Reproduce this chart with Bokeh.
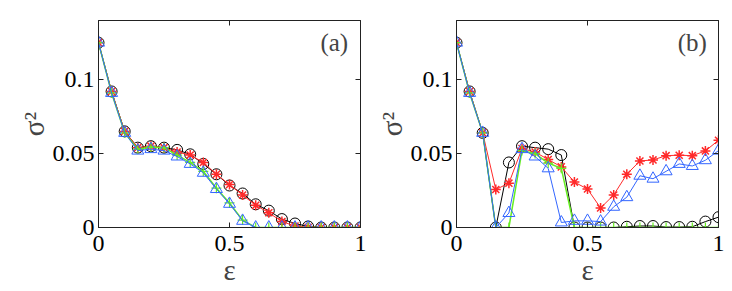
from bokeh.plotting import figure
from bokeh.layouts import row
from bokeh.models import LinearAxis, FixedTicker, Label, Range1d, CustomJSTickFormatter
from bokeh.embed import file_html
from bokeh.resources import INLINE

eps = [round(0.05 * i, 2) for i in range(21)]

# panel (a)
a_black = [0.125, 0.092, 0.065, 0.054, 0.055, 0.054, 0.0525, 0.0495, 0.043, 0.036, 0.0284,
           0.023, 0.0157, 0.0114, 0.0057, 0.0027, 0.0007, 0.0, 0.0, 0.0, 0.0]
a_red = [0.125, 0.092, 0.065, 0.054, 0.055, 0.054, 0.051, 0.049, 0.044, 0.036, 0.029,
         0.022, 0.015, 0.010, 0.004, 0.001, 0.0002, 0.0, 0.0, 0.0, 0.0]
a_green = [0.125, 0.091, 0.064, 0.053, 0.0545, 0.054, 0.049, 0.044, 0.038, 0.0266, 0.0166,
           0.005, 0.0, 0.0, 0.0, 0.0, 0.0, 0.0, 0.0, 0.0, 0.0]
a_blue = [0.125, 0.091, 0.064, 0.052, 0.053, 0.052, 0.048, 0.043, 0.037, 0.026, 0.016,
          0.0045, 0.0, 0.0, 0.0, 0.0, 0.0, 0.0, 0.0, 0.0, 0.0]

# panel (b)
b_black = [0.125, 0.092, 0.064, 0.0, 0.044, 0.055, 0.054, 0.053, 0.049, 0.0, 0.0,
           0.0, 0.0, 0.0005, 0.001, 0.001, 0.0003, 0.0003, 0.0005, 0.004, 0.007]
b_red = [0.125, 0.092, 0.064, 0.0257, 0.030, 0.0534, 0.051, 0.046, 0.041, 0.0307, 0.026,
         0.0132, 0.022, 0.036, 0.045, 0.0457, 0.0486, 0.0489, 0.0486, 0.0518, 0.059]
b_green = [0.125, 0.091, 0.064, 0.0, 0.0, 0.052, 0.050, 0.0436, 0.040, 0.0, 0.0,
           0.0, 0.0, 0.0, 0.0, 0.0, 0.0, 0.0, 0.0, 0.0, 0.0]
b_blue = [0.125, 0.091, 0.064, 0.0, 0.0098, 0.053, 0.048, 0.040, 0.0034, 0.0045, 0.0045,
          0.004, 0.014, 0.0205, 0.035, 0.033, 0.038, 0.043, 0.0416, 0.0455, 0.052]

x_ticks = [0, 0.5, 1]
x_tick_labels = {0: "0", 0.5: "0.5", 1: "1"}
y_ticks = [0, 0.05, 0.1]
y_tick_labels = {0: "0", 0.05: "0.05", 0.1: "0.1"}

BLACK = "#000000"
RED = "#ff2a2a"
GREEN = "#66ee22"
BLUE = "#3366ff"
FONT = "Liberation Serif"


def style_axis(ax, labels, ticks, show_labels=True, standoff=4):
    ax.ticker = FixedTicker(ticks=ticks)
    ax.major_tick_in = 5
    ax.major_tick_out = 0
    ax.minor_tick_line_color = None
    ax.axis_line_color = "#222222"
    ax.major_tick_line_color = "#222222"
    ax.major_label_text_font = FONT
    ax.major_label_text_color = "black"
    if show_labels:
        ax.major_label_overrides = labels
        ax.major_label_text_font_size = "24px"
        ax.major_label_standoff = standoff
    else:
        ax.formatter = CustomJSTickFormatter(code="return ''")
        ax.major_label_standoff = 0


def make_panel(tag, black, red, green, blue, width, left, right):
    p = figure(width=width, height=291, output_backend="svg", toolbar_location=None,
               x_range=Range1d(0, 1), y_range=Range1d(0, 0.14),
               min_border_left=left, min_border_right=right,
               min_border_top=20, min_border_bottom=64)
    p.grid.visible = False
    p.background_fill_color = "white"
    p.border_fill_color = "white"
    p.outline_line_color = "#333333"
    style_axis(p.xaxis[0], x_tick_labels, x_ticks, standoff=8)
    style_axis(p.yaxis[0], y_tick_labels, y_ticks, standoff=4)
    p.xaxis.axis_label = "ε"
    p.yaxis.axis_label = "σ²"
    for ax in (p.xaxis[0], p.yaxis[0]):
        ax.axis_label_text_font = FONT
        ax.axis_label_text_font_style = "normal"
        ax.axis_label_text_font_size = "29px"
        ax.axis_label_standoff = 0
    top = LinearAxis()
    style_axis(top, {}, x_ticks, show_labels=False)
    p.add_layout(top, "above")
    rt = LinearAxis()
    style_axis(rt, {}, y_ticks, show_labels=False)
    p.add_layout(rt, "right")

    p.line(eps, black, color=BLACK, line_width=1)
    p.scatter(eps, black, marker="circle", size=11, fill_color=None, line_color=BLACK, line_width=1)
    p.line(eps, red, color=RED, line_width=1)
    p.scatter(eps, red, marker="asterisk", size=10, line_color=RED, line_width=1.5)
    p.line(eps, green, color=GREEN, line_width=1.5)
    p.scatter(eps, green, marker="cross", size=10, line_color=GREEN, line_width=1.2)
    p.line(eps, blue, color=BLUE, line_width=1)
    p.scatter(eps, blue, marker="triangle", size=12, fill_color=None, line_color=BLUE, line_width=1)

    p.add_layout(Label(x=0.9, y=0.125, text=tag, text_font=FONT, text_font_size="25px",
                       text_align="center", text_baseline="middle"))
    return p


pa = make_panel("(a)", a_black, a_red, a_green, a_blue, 368, 98, 8)
pb = make_panel("(b)", b_black, b_red, b_green, b_blue, 364, 88, 14)

layout = row(pa, pb)
open("out.html", "w").write(file_html(layout, INLINE))
